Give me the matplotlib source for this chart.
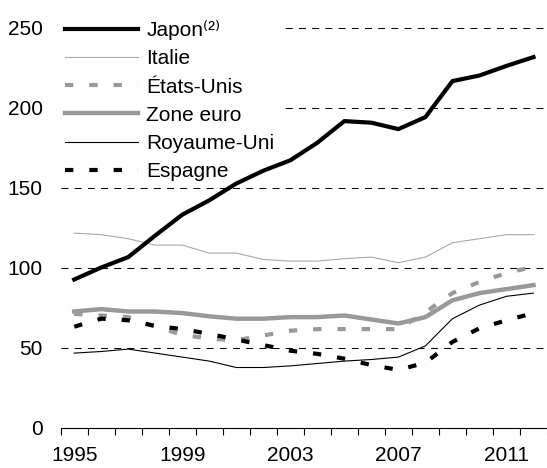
import matplotlib
matplotlib.use("Agg")
import matplotlib.pyplot as plt
import numpy as np

years = list(range(1995, 2013))
japon = [92.5, 100, 106.5, 120, 133, 142, 152.5, 160.5, 167, 178, 191.5, 190.5, 186.5, 194, 216.5, 220, 226, 231.5]
italie = [121.5, 120.5, 118, 114, 114, 109, 109, 105, 104, 104, 105.5, 106.5, 103, 106.5, 115.5, 118, 120.5, 120.5]
etats_unis = [71, 70, 69, 63, 58, 55.5, 54.5, 57.5, 60.5, 61.5, 61.5, 61.5, 61.5, 72, 84, 91, 96.5, 100.5]
zone_euro = [72.5, 74, 72.5, 72.5, 71.5, 69.5, 68, 68, 69, 69, 70, 67.5, 65, 69, 79.5, 84, 86.5, 89]
royaume_uni = [46.5, 47.5, 49, 46.5, 44, 41.5, 37.5, 37.5, 38.5, 40, 41.5, 42.5, 44, 51, 68, 76.5, 82, 84]
espagne = [63, 68, 67, 63.5, 61.5, 58.5, 55, 51.5, 48, 46, 43, 39, 36, 40.5, 53.5, 62, 67, 71.5]
labels = ["Japon⁽²⁾", "Italie", "États-Unis", "Zone euro", "Royaume-Uni", "Espagne"]
ytick_vals = [0, 50, 100, 150, 200, 250]

FS = 15
plt.rcParams['font.family'] = ['Liberation Sans', 'DejaVu Sans']
plt.rcParams['lines.scale_dashes'] = False
plt.rcParams['font.size'] = FS

fig = plt.figure(figsize=(5.47, 4.68), dpi=100)
ax = fig.add_axes([60.7/547, 40.5/468, 1 - 60.7/547, 408/468])

x = np.arange(len(years))
gray = '#a8a8a8'
mid = '#999999'
ax.plot(x, japon, color='black', lw=3.0, zorder=4, label=labels[0])
ax.plot(x, italie, color=gray, lw=0.8, zorder=3, label=labels[1])
ax.plot(x, etats_unis, color=mid, lw=3.0, ls=(0, (6, 11.5)), zorder=3, label=labels[2])
ax.plot(x, zone_euro, color=mid, lw=3.2, zorder=3, label=labels[3])
ax.plot(x, royaume_uni, color='black', lw=0.8, zorder=3, label=labels[4])
ax.plot(x, espagne, color='black', lw=3.0, ls=(0, (6, 11.5)), zorder=3, label=labels[5])

for v in ytick_vals[1:]:
    ax.axhline(v, color='black', lw=0.75, ls=(0, (5, 4.5)), zorder=1)

ax.set_xlim(-0.5, len(years) - 0.5)
ax.set_ylim(0, 255)
ax.set_yticks(ytick_vals)
ax.tick_params(axis='y', length=0, pad=13)
ax.set_xticks(x[::4])
ax.set_xticklabels([str(y) for y in years[::4]])
ax.set_xticks(np.arange(-0.5, len(years), 1), minor=True)
ax.tick_params(axis='x', which='major', length=0, pad=13)
ax.tick_params(axis='x', which='minor', length=5, width=0.8, direction='out')
for s in ['left', 'right', 'top']:
    ax.spines[s].set_visible(False)
ax.spines['bottom'].set_linewidth(0.8)

leg = ax.legend(loc='upper left', bbox_to_anchor=(-0.006, 1.016), borderaxespad=0,
                frameon=True, facecolor='white', edgecolor='none', framealpha=1,
                fancybox=False, handlelength=3.5, handletextpad=0.4, labelspacing=0.44,
                borderpad=0.35, fontsize=FS)
leg.set_zorder(2.5)

fig.savefig('out.png', dpi=100)
